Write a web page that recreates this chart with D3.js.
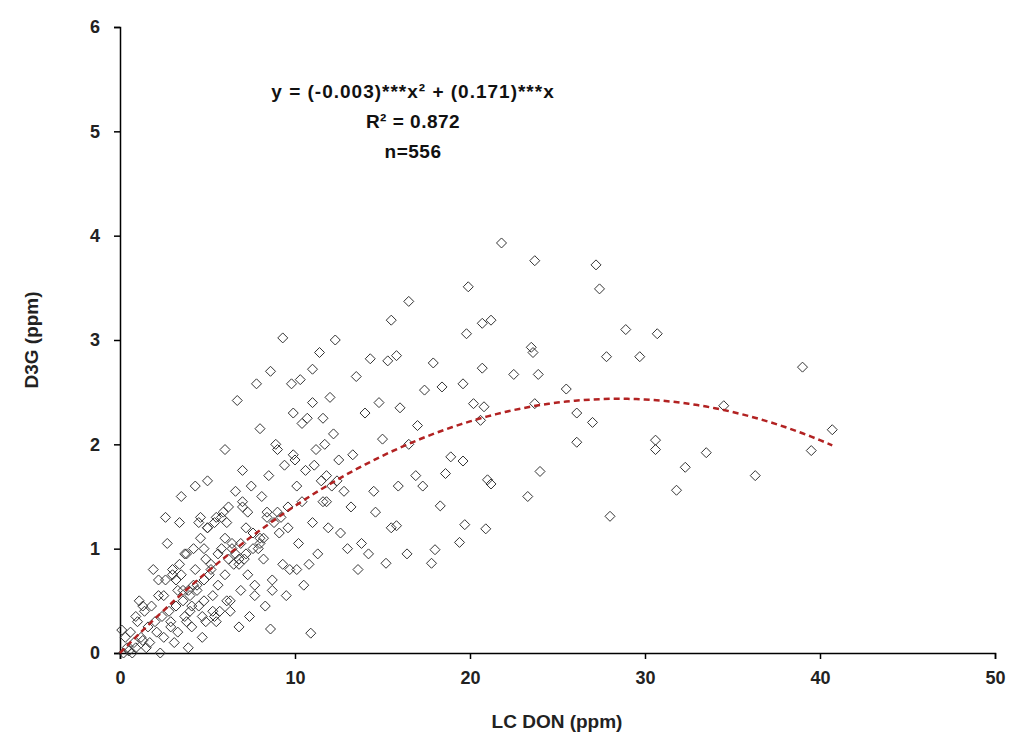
<!DOCTYPE html>
<html><head><meta charset="utf-8">
<script src="https://cdn.jsdelivr.net/npm/d3@7"></script>
<style>body{margin:0;background:#fff}text{font-family:"Liberation Sans",Arial,sans-serif;font-weight:bold}</style>
</head><body><svg id="c" width="1024" height="743"></svg>
<script>
const xTicks=[0,10,20,30,40,50];
const yTicks=[0,1,2,3,4,5,6];
const xTitle="LC DON (ppm)", yTitle="D3G (ppm)";
const eqLines=["y = (-0.003)***x² + (0.171)***x","R² = 0.872","n=556"];
const coefA=-0.003, coefB=0.171, fitMax=40.7;
const ptsX=[21.8,23.7,27.2,27.4,19.9,16.5,21.2,20.7,15.5,28.9,30.7,19.8,23.5,23.6,15.8,15.3,14.3,17.9,27.8,29.7,12.3,9.3,39.0,22.5,23.9,20.7,25.5,18.4,17.4,19.6,23.7,20.2,20.8,34.5,26.1,16.0,14.8,20.6,27.0,40.7,30.6,26.1,30.6,33.5,39.5,19.6,18.9,32.3,24.0,36.3,21.0,21.2,31.8,23.3,28.0,18.3,19.7,20.9,19.4,18.0,17.8,16.4,15.2,13.6,10.9,8.6,15.8,17.3,16.9,18.6,14.5,13.2,16.5,15.0,17.0,14.0,13.5,12.0,11.0,10.3,9.8,8.6,7.8,6.7,11.4,
12.5,12.8,11.7,11.2,10.6,10.1,9.6,9.2,8.8,8.4,8.0,7.6,7.2,6.8,6.4,6.0,5.6,5.2,4.8,4.4,4.0,3.6,3.2,2.8,2.4,2.0,1.6,1.2,0.8,0.4,
11.9,11.3,10.8,10.2,9.7,9.1,8.7,8.2,7.7,7.3,6.9,6.5,6.1,5.7,5.3,4.9,4.5,4.1,3.7,3.3,2.9,2.5,2.1,1.7,1.3,0.9,0.5,0.2,
12.2,11.6,11.0,10.4,9.9,9.4,8.9,8.5,8.1,7.5,7.0,6.6,6.2,5.8,5.4,5.0,4.6,4.2,3.8,3.4,3.0,2.6,2.2,1.8,1.4,1.0,0.6,0.1,
10.5,9.5,8.3,7.4,6.3,5.5,4.7,3.9,3.1,2.3,1.5,0.7,11.5,10.0,9.0,8.0,7.0,6.0,5.0,4.3,3.5,2.7,1.9,1.1,0.3,
13.0,12.6,14.2,13.8,15.5,11.8,10.7,9.9,12.4,13.3,14.6,15.9,5.1,4.3,3.9,4.6,5.9,6.3,3.4,2.6,1.3,0.9,4.8,5.4,6.8,7.1,2.2,3.7,
3.2,3.6,4.0,4.4,4.8,5.2,5.6,6.0,6.4,6.8,7.2,7.6,8.0,3.0,3.5,4.1,4.5,5.0,5.5,6.1,6.6,7.3,7.9,8.4,9.0,2.5,3.3,4.2,4.9,5.8,6.9,7.7,8.7,9.6,10.4,11.1,11.8,2.9,3.8,4.7,5.3,6.2,7.0,8.2,9.3,10.1,11.0,11.6,12.1];
const ptsY=[3.93,3.76,3.72,3.49,3.51,3.37,3.19,3.16,3.19,3.10,3.06,3.06,2.93,2.88,2.85,2.80,2.82,2.78,2.84,2.84,3.0,3.02,2.74,2.67,2.67,2.73,2.53,2.55,2.52,2.58,2.39,2.39,2.36,2.37,2.30,2.35,2.40,2.23,2.21,2.14,2.04,2.02,1.95,1.92,1.94,1.84,1.88,1.78,1.74,1.70,1.66,1.62,1.56,1.50,1.31,1.41,1.23,1.19,1.06,0.99,0.86,0.95,0.86,0.80,0.19,0.23,1.22,1.60,1.70,1.72,1.55,1.40,2.00,2.05,2.18,2.30,2.65,2.45,2.72,2.62,2.58,2.70,2.58,2.42,2.88,
1.85,1.55,2.00,1.95,1.75,1.60,1.40,1.30,1.25,1.35,1.10,1.00,1.20,0.90,1.05,1.10,0.95,0.80,0.70,0.65,0.55,0.60,0.45,0.40,0.35,0.30,0.25,0.15,0.10,0.05,
1.20,0.95,0.85,1.05,0.80,1.15,0.70,0.90,0.65,0.75,0.60,0.85,0.50,0.40,0.55,0.30,0.45,0.25,0.35,0.20,0.30,0.15,0.20,0.10,0.12,0.05,0.02,0.00,
2.10,2.25,2.40,2.20,1.90,1.80,2.00,1.70,1.50,1.60,1.45,1.55,1.40,1.30,1.25,1.20,1.10,1.00,0.95,0.85,0.75,0.70,0.55,0.45,0.40,0.30,0.20,0.22,
0.65,0.55,0.45,0.35,0.40,0.30,0.15,0.05,0.10,0.00,0.05,0.00,1.65,1.85,1.95,2.15,1.75,1.95,1.65,1.60,1.50,1.05,0.80,0.50,0.15,
1.00,1.15,0.95,1.05,1.20,1.45,2.25,2.30,1.65,1.90,1.35,1.60,0.75,0.80,0.60,1.30,1.35,0.50,1.25,1.30,0.45,0.35,1.00,0.35,0.25,0.90,0.70,0.95,
0.70,0.50,0.40,0.60,0.50,0.85,0.65,0.75,1.00,0.85,0.95,1.15,1.05,0.80,0.75,0.45,1.25,1.20,1.30,1.25,0.95,1.35,1.00,1.30,1.35,0.55,0.60,0.65,0.90,1.00,1.05,0.55,0.60,1.20,1.45,1.80,1.70,0.25,0.30,0.35,0.40,0.90,1.40,1.10,0.85,0.80,1.25,1.45,1.60];

const svg=d3.select("#c");
const x=d3.scaleLinear().domain([0,50]).range([120,995]);
const y=d3.scaleLinear().domain([0,6]).range([653,27]);
svg.append("g").attr("transform","translate(0,653)")
 .call(d3.axisBottom(x).tickValues(xTicks).tickFormat(d3.format("d")).tickSize(6).tickPadding(12))
 .call(g=>{g.selectAll("text").attr("font-size",18).attr("fill","#222");g.selectAll("path,line").attr("stroke","#000").attr("stroke-width",1.5);});
svg.append("g").attr("transform","translate(120,0)")
 .call(d3.axisLeft(y).tickValues(yTicks).tickFormat(d3.format("d")).tickSize(6).tickPadding(14))
 .call(g=>{g.selectAll("text").attr("font-size",18).attr("fill","#222");g.selectAll("path,line").attr("stroke","#000").attr("stroke-width",1.5);});
svg.append("g").selectAll("path").data(ptsX.map((v,i)=>[v,ptsY[i]])).join("path")
 .attr("d",d=>{const cx=x(d[0]),cy=y(d[1]);return `M${cx},${cy-5}L${cx+5},${cy}L${cx},${cy+5}L${cx-5},${cy}Z`;})
 .attr("fill","none").attr("stroke","#333").attr("stroke-width",1);
const fx=d3.range(0,fitMax+0.01,0.5).concat([fitMax]);
svg.append("path").datum(fx).attr("d",d3.line().x(v=>x(v)).y(v=>y(coefA*v*v+coefB*v)))
 .attr("fill","none").attr("stroke","#b22222").attr("stroke-width",2.5).attr("stroke-dasharray","6,4");
eqLines.forEach((t,i)=>svg.append("text").attr("x",413).attr("y",98+i*30).attr("text-anchor","middle").attr("font-size",19).attr("letter-spacing",i==0?1:0.5).attr("fill","#111").text(t));
svg.append("text").attr("x",557).attr("y",728).attr("text-anchor","middle").attr("font-size",19).attr("fill","#222").text(xTitle);
svg.append("text").attr("transform","translate(38,340) rotate(-90)").attr("text-anchor","middle").attr("font-size",19).attr("fill","#222").text(yTitle);
</script></body></html>
